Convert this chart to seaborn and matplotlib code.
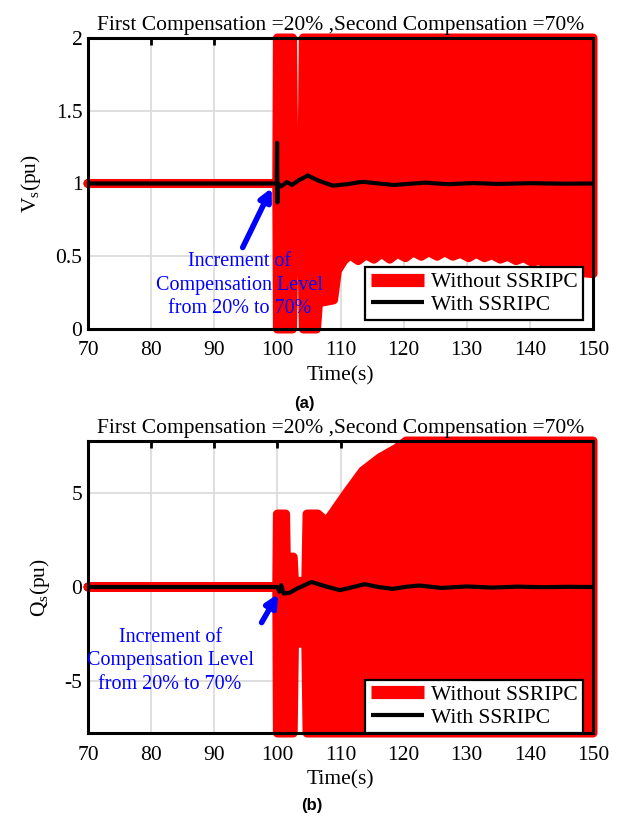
import numpy as np
import pandas as pd
import matplotlib
matplotlib.use("Agg")
import matplotlib.pyplot as plt
import seaborn as sns
from matplotlib.lines import Line2D

# ---- data ----
# (a) V_s : red band (without SSRIPC) given as lower / upper envelope
v_red_t = [70, 99.9, 100.0, 102.4, 102.6, 103.9, 104.1, 106.2, 106.5, 108.9, 109.5, 110.5,
           111.5, 112.8, 114.0, 115.3, 116.5, 117.8, 119.0, 120.3, 121.5, 122.8, 124.0, 125.3,
           126.5, 127.8, 129.0, 130.3, 131.5, 132.8, 134.0, 135.3, 136.5, 137.8, 139.0, 140.3,
           141.5, 142.8, 144.0, 145.3, 146.5, 147.8, 150.0]
v_red_hi = [1, 1, 2, 2, 1.1, 1.1, 2, 2, 2, 2, 2, 2,
            2, 2, 2, 2, 2, 2, 2, 2, 2, 2, 2, 2,
            2, 2, 2, 2, 2, 2, 2, 2, 2, 2, 2, 2,
            2, 2, 2, 2, 2, 2, 2]
v_red_lo = [1, 1, 0, 0, 0.55, 0.55, 0, 0, 0.18, 0.2, 0.4, 0.47,
            0.51, 0.47, 0.51, 0.48, 0.52, 0.48, 0.52, 0.49, 0.53, 0.5, 0.53, 0.5,
            0.53, 0.5, 0.52, 0.49, 0.52, 0.49, 0.51, 0.48, 0.5, 0.47, 0.49, 0.46,
            0.47, 0.44, 0.45, 0.42, 0.42, 0.39, 0.38]

# (a) V_s : black line (with SSRIPC)
v_blk_t = [70, 99.9, 99.95, 100.0, 100.05, 100.6, 101.5, 102.3, 103.3, 104.8, 106.5, 108.8,
           111.0, 113.5, 116.0, 118.5, 121.0, 123.5, 127.0, 131.0, 135.0, 140.0, 145.0, 150.0]
v_blk = [1.0, 1.0, 1.28, 0.87, 1.0, 0.98, 1.01, 0.99, 1.02, 1.055, 1.02, 0.985,
         0.995, 1.012, 1.0, 0.99, 0.998, 1.006, 0.995, 1.003, 0.997, 1.002, 0.999, 1.0]

# (b) Q_s : red band
q_red_t = [70, 99.9, 100.0, 101.3, 101.4, 102.5, 102.7, 104.5, 104.7, 106.4, 107.8, 110.9,
           113.5, 116.2, 118.8, 120.4, 150.0]
q_red_hi = [0, 0, 3.9, 3.9, 1.6, 1.6, 0.3, 0.3, 3.9, 3.9, 3.5, 5.0,
            6.2, 6.9, 7.4, 7.8, 7.8]
q_red_lo = [0, 0, -7.8, -7.8, -7.8, -7.8, -3.0, -3.0, -7.8, -7.8, -7.8, -7.8,
            -7.8, -7.8, -7.8, -7.8, -7.8]

# (b) Q_s : black line
q_blk_t = [70, 100.0, 100.3, 100.6, 101.0, 102.0, 103.0, 104.0, 105.4, 107.5, 109.9, 112.0,
           113.8, 116.0, 118.3, 120.5, 122.5, 126.0, 130.0, 134.0, 138.0, 142.0, 146.0, 150.0]
q_blk = [0, 0, -0.25, 0.1, -0.35, -0.3, -0.1, 0.05, 0.27, 0.05, -0.17, 0.0,
         0.15, 0.0, -0.1, 0.02, 0.08, -0.05, 0.03, -0.03, 0.02, -0.01, 0.01, 0]

title = "First Compensation =20% ,Second Compensation =70%"
note = "Increment of\nCompensation Level\nfrom 20% to 70%"

sns.set_theme(style="whitegrid")
plt.rcParams.update({
    "font.family": ["Liberation Serif", "DejaVu Serif"],
    "mathtext.fontset": "custom",
    "mathtext.rm": "Liberation Serif",
    "mathtext.it": "Liberation Serif",
    "mathtext.default": "regular",
    "axes.unicode_minus": False,
    "axes.edgecolor": "black",
    "axes.linewidth": 2.2,
    "grid.color": "#dcdcdc",
    "grid.linewidth": 1.3,
    "xtick.direction": "in",
    "ytick.direction": "in",
    "xtick.top": True,
    "ytick.right": True,
    "xtick.major.size": 5,
    "ytick.major.size": 5,
    "xtick.major.width": 2,
    "ytick.major.width": 2,
    "xtick.color": "black",
    "ytick.color": "black",
    "text.color": "black",
    "axes.labelcolor": "black",
})

fig = plt.figure(figsize=(6.27, 8.19), dpi=100)
ax1 = fig.add_axes([0.1404, 0.5983, 0.8054, 0.3553])
ax2 = fig.add_axes([0.1404, 0.1050, 0.8054, 0.3565])

FS = 15.5


def draw_panel(ax, rt, rhi, rlo, bt, bv, ylim, yticks, yticklabels, ylabel,
               note_xy, arrow_tail, arrow_head, leg_anchor):
    # red band: closed outline drawn thick, like the original wide line
    px = list(rt) + list(rt)[::-1]
    py = list(rhi) + list(rlo)[::-1]
    ax.fill(px, py, facecolor="red", edgecolor="red", lw=6.5,
            joinstyle="round", clip_on=False, zorder=2)
    df = pd.DataFrame({"t": bt, "v": bv})
    sns.lineplot(data=df, x="t", y="v", ax=ax, color="black", lw=3,
                 estimator=None, sort=False, zorder=3,
                 solid_joinstyle="round", solid_capstyle="round")
    ax.set_xlim(70, 150)
    ax.set_ylim(*ylim)
    ax.set_xticks(range(70, 151, 10))
    ax.set_yticks(yticks)
    ax.set_yticklabels(yticklabels)
    ax.tick_params(axis="x", labelsize=FS, pad=9)
    ax.tick_params(axis="y", labelsize=FS, pad=4)
    ax.set_xlabel("Time(s)", fontsize=FS, labelpad=4)
    ax.set_ylabel(ylabel, fontsize=FS, labelpad=9)
    ax.set_title(title, fontsize=FS, pad=6)
    ax.grid(True, zorder=0)
    ax.set_axisbelow(True)
    ax.text(note_xy[0], note_xy[1], note, color="blue", fontsize=FS - 1,
            ha="center", va="center", linespacing=1.32, zorder=5)
    ax.annotate("", xy=arrow_head, xytext=arrow_tail,
                arrowprops=dict(arrowstyle="-|>", color="blue", lw=4,
                                mutation_scale=18, shrinkA=0, shrinkB=0),
                zorder=6)
    handles = [Line2D([], [], color="red", lw=9.5, solid_capstyle="butt"),
               Line2D([], [], color="black", lw=3, solid_capstyle="butt")]
    leg = ax.legend(handles, ["Without SSRIPC", "With SSRIPC"], loc="lower right",
                    bbox_to_anchor=leg_anchor, fontsize=FS, frameon=True,
                    fancybox=False, framealpha=1, handlelength=2.5, borderpad=0.25,
                    labelspacing=0.12, handletextpad=0.3, borderaxespad=0)
    leg.get_frame().set_edgecolor("black")
    leg.get_frame().set_linewidth(1.6)
    leg.set_zorder(10)
    for s in ax.spines.values():
        s.set_zorder(4)


draw_panel(ax1, v_red_t, v_red_hi, v_red_lo, v_blk_t, v_blk, (0, 2),
           [0, 0.5, 1, 1.5, 2], ["0", "0.5", "1", "1.5", "2"], "V$_s$(pu)",
           (94.0, 0.30), (94.5, 0.56), (99.1, 0.97), (0.98, 0.03))
draw_panel(ax2, q_red_t, q_red_hi, q_red_lo, q_blk_t, q_blk, (-7.8, 7.8),
           [-5, 0, 5], ["-5", "0", "5"], "Q$_s$(pu)",
           (83.0, -3.94), (97.5, -1.9), (100.1, -0.37), (0.98, 0.0))

fig.text(0.485, 0.507, "(a)", fontsize=12, fontweight="bold",
         family=["Liberation Sans"], ha="center", va="center")
fig.text(0.497, 0.017, "(b)", fontsize=12, fontweight="bold",
         family=["Liberation Sans"], ha="center", va="center")

fig.savefig("out.png", dpi=100)
